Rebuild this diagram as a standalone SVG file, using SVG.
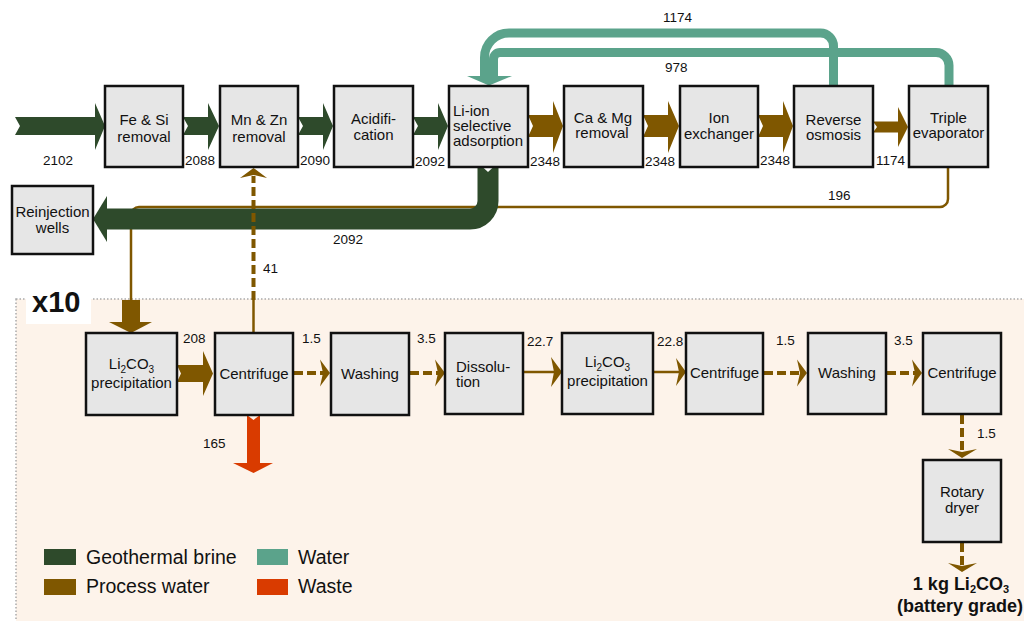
<svg xmlns="http://www.w3.org/2000/svg" width="1024" height="621" viewBox="0 0 1024 621">
<style>
.box{fill:#e6e6e6;stroke:#111;stroke-width:2.5}
.t{font-family:"Liberation Sans",Arial,sans-serif;font-size:15px;fill:#111}
.c{text-anchor:middle}
.n{font-family:"Liberation Sans",Arial,sans-serif;font-size:13.5px;fill:#111}
.lg{font-family:"Liberation Sans",Arial,sans-serif;font-size:19.5px;fill:#111}
.g{fill:#2e4a2b}
.b{fill:#7f5700}
.tl{fill:#5ba38b}
.r{fill:#d93b00}
.dash{stroke:#7f5700;stroke-width:4;stroke-dasharray:9 4;fill:none}
.thin{stroke:#7f5700;stroke-width:2.5;fill:none}
</style>
<rect width="1024" height="621" fill="#ffffff"/>
<!-- batch region -->
<rect x="16" y="299" width="1020" height="330" fill="#fdf3ea" stroke="#aaaaaa" stroke-width="1.5" stroke-dasharray="1.5 2"/>
<rect x="26" y="285" width="65" height="39" fill="#ffffff"/>
<text x="32" y="312" font-family="'Liberation Sans',Arial,sans-serif" font-size="29" font-weight="bold" fill="#111">x10</text>

<g id="connectors">
  <!-- water recycle -->
  <path d="M 833.5 86 V 46 A 13 13 0 0 0 820.5 33 H 509 A 24.5 24.5 0 0 0 484.5 57.5 V 78" fill="none" stroke="#5ba38b" stroke-width="9"/>
  <path d="M 949 86 V 65.5 A 13 13 0 0 0 936 52.5 H 500 A 6.5 6.5 0 0 0 493.5 59 V 78" fill="none" stroke="#5ba38b" stroke-width="9"/>
  <polygon class="tl" points="467,76 512,76 489,85.5"/>
  <!-- process water 196 -->
  <path d="M 948 167 V 199 A 8 8 0 0 1 940 207 H 139 A 8 8 0 0 0 131 215 V 301" class="thin" stroke-width="2"/>
  <!-- brine to reinjection -->
  <path d="M 488 167 V 201 A 18 18 0 0 1 470 219 H 105" fill="none" stroke="#2e4a2b" stroke-width="21"/>
  <polygon class="g" points="107,196 93,219 107,242"/>
  <polygon fill="#ffffff" points="482,166.5 494,166.5 488,172"/>
  <!-- top row arrows -->
  <polygon class="g" points="15,117 95,117 95,103 105,126 95,150 95,135 15,135 20,126"/>
  <polygon class="g" points="183,117 208,117 208,103 219,126 208,150 208,135 183,135 188,126"/>
  <polygon class="g" points="298,117 323,117 323,103 333,126 323,150 323,135 298,135 303,126"/>
  <polygon class="g" points="413,117 438,117 438,103 448,126 438,150 438,135 413,135 418,126"/>
  <polygon class="b" points="528,115 553,115 553,101 563,126 553,153 553,137 528,137 533,126"/>
  <polygon class="b" points="643,115 668,115 668,101 679,126 668,153 668,137 643,137 648,126"/>
  <polygon class="b" points="758,115 783,115 783,101 793,126 783,153 783,137 758,137 763,126"/>
  <polygon class="b" points="873,121.5 898,121.5 898,107 908,127 898,147 898,132.5 873,132.5 877,127"/>
  <!-- 41 recycle -->
  <line x1="253.5" y1="300" x2="253.5" y2="176" class="dash" stroke-width="3.3"/>
  <polygon class="b" points="240,178 253.5,168 267,178 253.5,175"/>
  <line x1="253.5" y1="300" x2="253.5" y2="333" class="thin" stroke-width="2"/>
  <!-- into Li2CO3 precipitation -->
  <polygon class="b" points="122,300 140,300 140,322 152,322 131,333 109,322 122,322"/>
  <!-- bottom row -->
  <polygon class="b" points="177,365 203,365 203,351 213,373.5 203,396 203,382 177,382 181,373.5"/>
  <polygon class="r" points="247,415 253.5,420 260,415 260,463 273,463 253.5,473 233,463 247,463"/>
  <line x1="294" y1="373" x2="323" y2="373" class="dash"/>
  <polygon class="b" points="320,359.5 330,373 320,386.5 323,373"/>
  <line x1="410" y1="373" x2="438" y2="373" class="dash"/>
  <polygon class="b" points="435,359.5 445,373 435,386.5 438,373"/>
  <line x1="524" y1="372" x2="556" y2="372" class="thin" stroke-width="3"/>
  <polygon class="b" points="551,357 562,372 551,387 554,372"/>
  <line x1="654" y1="372" x2="680" y2="372" class="thin" stroke-width="3"/>
  <polygon class="b" points="676,358 686,372 676,386 679,372"/>
  <line x1="764" y1="373" x2="800" y2="373" class="dash"/>
  <polygon class="b" points="797,359.5 807,373 797,386.5 800,373"/>
  <line x1="887" y1="373" x2="915" y2="373" class="dash"/>
  <polygon class="b" points="912,359.5 922,373 912,386.5 915,373"/>
  <line x1="962" y1="415" x2="962" y2="452" class="dash"/>
  <polygon class="b" points="948,449 962,458 977,449 962,452"/>
  <line x1="962" y1="543" x2="962" y2="566" class="dash"/>
  <polygon class="b" points="948,563 962,572 977,563 962,566"/>
</g>

<g id="labels">
  <text class="n" x="43" y="165">2102</text>
  <text class="n" x="185" y="165">2088</text>
  <text class="n" x="300" y="165">2090</text>
  <text class="n" x="415" y="166">2092</text>
  <text class="n" x="530" y="166">2348</text>
  <text class="n" x="645" y="166">2348</text>
  <text class="n" x="760" y="165">2348</text>
  <text class="n" x="876" y="165">1174</text>
  <text class="n" x="663" y="22">1174</text>
  <text class="n" x="665" y="72">978</text>
  <text class="n" x="828" y="200">196</text>
  <text class="n" x="333" y="244">2092</text>
  <text class="n" x="263" y="273">41</text>
  <text class="n" x="183" y="343">208</text>
  <text class="n" x="302" y="343">1.5</text>
  <text class="n" x="417" y="343">3.5</text>
  <text class="n" x="527" y="346">22.7</text>
  <text class="n" x="657" y="346">22.8</text>
  <text class="n" x="776" y="345">1.5</text>
  <text class="n" x="894" y="345">3.5</text>
  <text class="n" x="203" y="448">165</text>
  <text class="n" x="977" y="438">1.5</text>
</g>

<g id="n-fesi"><rect class="box" x="105" y="86" width="78" height="81"/><text class="t c" x="144" y="125">Fe &amp; Si</text><text class="t c" x="144" y="142">removal</text></g>
<g id="n-mnzn"><rect class="box" x="220" y="86" width="78" height="81"/><text class="t c" x="259" y="125">Mn &amp; Zn</text><text class="t c" x="259" y="142">removal</text></g>
<g id="n-acid"><rect class="box" x="334" y="86" width="79" height="81"/><text class="t c" x="373.5" y="124">Acidifi-</text><text class="t c" x="373.5" y="140">cation</text></g>
<g id="n-liion"><rect class="box" x="449" y="86" width="79" height="81"/><text class="t" x="453" y="116" font-size="14.5">Li-ion</text><text class="t" x="453" y="131" font-size="14.5">selective</text><text class="t" x="453" y="146" font-size="14.5">adsorption</text></g>
<g id="n-camg"><rect class="box" x="564" y="86" width="79" height="81"/><text class="t c" x="603" y="123">Ca &amp; Mg</text><text class="t c" x="602" y="138">removal</text></g>
<g id="n-ion"><rect class="box" x="680" y="86" width="78" height="81"/><text class="t c" x="719" y="123">Ion</text><text class="t c" x="719" y="139">exchanger</text></g>
<g id="n-ro"><rect class="box" x="794" y="86" width="79" height="81"/><text class="t c" x="833.5" y="125">Reverse</text><text class="t c" x="833.5" y="140">osmosis</text></g>
<g id="n-triple"><rect class="box" x="909" y="86" width="79" height="81"/><text class="t c" x="948.5" y="123">Triple</text><text class="t c" x="948.5" y="138">evaporator</text></g>
<g id="n-reinj"><rect class="box" x="12" y="186" width="81" height="68"/><text class="t c" x="52.5" y="217">Reinjection</text><text class="t c" x="52.5" y="233">wells</text></g>

<g id="n-prec1"><rect class="box" x="86" y="333" width="91" height="82"/><text class="t c" x="131.5" y="369">Li<tspan font-size="10" dy="4">2</tspan><tspan dy="-4">CO</tspan><tspan font-size="10" dy="4">3</tspan></text><text class="t c" x="131.5" y="388">precipitation</text></g>
<g id="n-cent1"><rect class="box" x="215" y="333" width="78" height="82"/><text class="t c" x="254" y="379">Centrifuge</text></g>
<g id="n-wash1"><rect class="box" x="331" y="333" width="78" height="82"/><text class="t c" x="370" y="379">Washing</text></g>
<g id="n-diss"><rect class="box" x="445" y="333" width="78" height="81"/><text class="t" x="456" y="372">Dissolu-</text><text class="t" x="456" y="387">tion</text></g>
<g id="n-prec2"><rect class="box" x="562" y="333" width="91" height="81"/><text class="t c" x="607.5" y="367">Li<tspan font-size="10" dy="4">2</tspan><tspan dy="-4">CO</tspan><tspan font-size="10" dy="4">3</tspan></text><text class="t c" x="607.5" y="386">precipitation</text></g>
<g id="n-cent2"><rect class="box" x="686" y="333" width="77" height="81"/><text class="t c" x="724.5" y="378">Centrifuge</text></g>
<g id="n-wash2"><rect class="box" x="808" y="333" width="78" height="81"/><text class="t c" x="847" y="378">Washing</text></g>
<g id="n-cent3"><rect class="box" x="923" y="333" width="78" height="81"/><text class="t c" x="962" y="378">Centrifuge</text></g>
<g id="n-dryer"><rect class="box" x="923" y="460" width="78" height="82"/><text class="t c" x="962" y="497">Rotary</text><text class="t c" x="962" y="513">dryer</text></g>
<g id="product"><text x="961" y="590" text-anchor="middle" font-family="'Liberation Sans',Arial,sans-serif" font-size="18" font-weight="bold" fill="#111">1 kg Li<tspan font-size="11" dy="3">2</tspan><tspan dy="-3">CO</tspan><tspan font-size="11" dy="3">3</tspan></text><text x="960" y="612" text-anchor="middle" font-family="'Liberation Sans',Arial,sans-serif" font-size="18" font-weight="bold" fill="#111">(battery grade)</text></g>

<g id="legend">
  <rect class="g" x="44" y="549" width="32" height="16"/><text class="lg" x="86" y="564">Geothermal brine</text>
  <rect class="b" x="44" y="579" width="32" height="16"/><text class="lg" x="86" y="593">Process water</text>
  <rect class="tl" x="257" y="549" width="31" height="16"/><text class="lg" x="298" y="564">Water</text>
  <rect class="r" x="257" y="579" width="31" height="16"/><text class="lg" x="298" y="593">Waste</text>
</g>
</svg>
